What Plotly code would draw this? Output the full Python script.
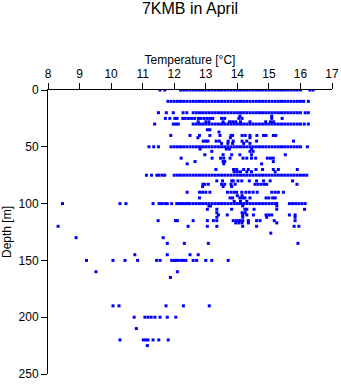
import plotly.graph_objects as go

# Depth levels (m) and temperatures (°C)
t_d0 = [11.55, 11.7, 12.2, 12.3, 12.4, 12.5, 12.6, 12.7, 12.8, 12.9, 13.0, 13.1, 13.2, 13.3, 13.4,
        13.5, 13.6, 13.7, 13.8, 13.9, 14.0, 14.1, 14.2, 14.3, 14.4, 14.5, 14.6, 14.7, 14.8, 14.9,
        15.0, 15.1, 15.2, 15.3, 15.4, 15.5, 15.6, 15.7, 15.8, 15.9, 16.0, 16.3, 16.4]
t_d10 = [11.8, 11.9, 12.0, 12.1, 12.2, 12.3, 12.4, 12.5, 12.6, 12.7, 12.8, 12.9, 13.0, 13.1, 13.2,
         13.3, 13.4, 13.5, 13.6, 13.7, 13.8, 13.9, 14.0, 14.1, 14.2, 14.3, 14.4, 14.5, 14.6, 14.7,
         14.8, 14.9, 15.0, 15.1, 15.2, 15.3, 15.4, 15.5, 15.6, 15.7, 15.8, 15.9, 16.0, 16.1, 16.25]
t_d20 = [11.5, 11.75, 11.97, 12.28, 12.4, 12.6, 12.7, 12.8, 12.9, 13.0, 13.1, 13.2, 13.3, 13.4,
         13.5, 13.6, 13.7, 13.8, 13.9, 14.0, 14.1, 14.2, 14.3, 14.4, 14.5, 14.6, 14.7, 14.8, 14.9,
         15.0, 15.1, 15.2, 15.3, 15.4, 15.5, 15.6, 15.7, 15.8, 15.9, 16.0, 16.15, 16.25]
t_d23 = [14.08, 15.09]
t_d25 = [11.72, 11.86, 12.02, 12.09, 12.27, 12.35, 12.45, 12.55, 12.65, 12.77, 12.85, 12.95, 13.05,
         13.15, 13.22, 13.5, 13.6, 14.05, 14.15, 15.09, 15.42]
t_d28 = [12.76, 13.0, 13.1, 13.55, 13.75, 13.85, 13.95, 14.1, 14.4, 14.9, 15.05, 15.15]
t_d30 = [11.38, 11.97, 12.05, 12.13, 12.6, 12.7, 12.8, 12.9, 13.0, 13.1, 13.2, 13.3, 13.4, 13.5,
         13.6, 13.7, 13.8, 13.9, 14.0, 14.1, 14.2, 14.3, 14.4, 14.5, 14.6, 14.7, 14.8, 14.9, 15.0,
         15.1, 15.2, 15.3, 15.4, 15.5, 15.6, 15.7, 15.8, 15.9, 16.0, 16.12, 16.25]
t_d35 = [13.05, 13.13]
t_d37 = [13.42]
t_d40 = [11.89, 12.5, 12.8, 13.13, 13.45, 13.8, 13.85, 14.15, 14.25, 14.4, 14.62, 14.83, 14.91,
         15.14, 15.22]
t_d42 = [12.75, 13.78, 14.4]
t_d45 = [12.92, 13.0, 13.07, 13.33, 13.43, 13.71, 13.87, 14.15, 14.3, 14.61, 15.78]
t_d47 = [13.5, 13.7, 13.85, 14.2, 14.4]
t_d50 = [11.2, 11.35, 11.5, 11.9, 12.0, 12.1, 12.2, 12.3, 12.4, 12.5, 12.6, 12.7, 12.8, 12.9, 13.0,
         13.1, 13.2, 13.3, 13.4, 13.5, 13.6, 13.7, 13.8, 13.9, 14.0, 14.1, 14.2, 14.3, 14.4, 14.5,
         14.6, 14.7, 14.8, 14.9, 15.0, 15.1, 15.2, 15.3, 15.4, 15.5, 15.6, 15.7, 15.8, 15.9, 16.0,
         16.22]
t_d52 = [12.82, 13.65, 13.75, 14.45]
t_d54 = [13.19, 14.4, 14.5]
t_d57 = [12.97, 13.55, 13.82, 14.08, 14.45, 15.52]
t_d60 = [12.22, 13.2, 13.47, 13.57, 13.77, 14.18, 14.3, 14.45, 14.58, 14.95, 15.05, 15.14]
t_d63 = [12.66, 13.55, 13.6, 15.14]
t_d65 = [12.41, 13.57, 14.77]
t_d70 = [13.32, 13.88, 13.98, 14.2, 14.35, 14.59, 14.8, 15.14, 15.3, 15.9]
t_d72 = [13.9, 14.0, 14.1, 14.3, 14.45, 15.2]
t_d75 = [11.12, 11.28, 11.45, 11.52, 11.62, 11.7, 12.0, 12.1, 12.2, 12.3, 12.4, 12.5, 12.6, 12.7,
         12.8, 12.9, 13.0, 13.1, 13.2, 13.3, 13.4, 13.5, 13.6, 13.7, 13.8, 13.9, 14.0, 14.1, 14.2,
         14.3, 14.4, 14.5, 14.6, 14.7, 14.8, 14.9, 15.0, 15.1, 15.2, 15.3, 15.4, 15.5, 15.6, 15.7,
         15.8, 15.9, 16.0, 16.1, 16.2]
t_d80 = [13.35, 13.53, 13.82, 13.87, 14.02, 14.14, 14.38, 14.61, 14.83, 15.04, 15.75]
t_d83 = [12.91, 12.97, 13.08, 13.5, 13.6, 13.8, 13.93, 14.56, 14.65, 14.75, 14.85, 14.93, 15.89]
t_d85 = [12.9, 13.55, 13.82]
t_d90 = [12.41, 12.8, 12.9, 13.0, 13.13, 13.69, 13.8, 13.9, 13.98, 14.14, 14.27, 14.38, 14.5, 14.63,
         15.09, 15.2, 15.3, 15.46]
t_d93 = [14.0, 14.15]
t_d95 = [12.8, 13.77, 13.85, 14.08, 14.17, 14.24, 14.4, 14.91, 15.0, 15.12, 15.2]
t_d98 = [13.9, 14.1, 14.3]
t_d100 = [8.46, 10.28, 10.47, 11.33, 11.52, 11.6, 11.7, 11.78, 11.92, 12.08, 12.15, 12.23, 12.29,
          12.37, 12.44, 12.5, 12.6, 12.7, 12.8, 12.9, 13.0, 13.1, 13.2, 13.3, 13.4, 13.5, 13.6,
          13.7, 13.8, 13.9, 14.0, 14.1, 14.2, 14.3, 14.4, 14.5, 14.6, 14.7, 14.8, 14.9, 15.0, 15.1,
          15.2, 15.25, 15.65, 15.75, 15.85, 15.95, 16.05, 16.15]
t_d102 = [13.1, 13.15, 14.17, 15.25]
t_d105 = [13.05, 13.35, 13.82, 14.24, 14.3, 14.53, 15.25, 16.13]
t_d108 = [13.35, 14.15, 14.25]
t_d110 = [13.4, 13.68, 14.17, 14.3, 14.51, 14.91, 15.0, 15.09, 15.65, 15.83]
t_d112 = [13.35, 14.17, 14.93, 15.83]
t_d115 = [11.49, 12.04, 12.1, 12.6, 13.05, 13.24, 13.35, 13.87, 13.97, 14.07, 14.17, 14.35, 14.61,
          14.72, 15.17, 15.83]
t_d117 = [13.95, 14.05, 14.15, 14.35, 15.25]
t_d120 = [8.32, 12.44, 13.05, 13.35, 14.17, 14.61, 15.8, 15.95]
t_d126 = [15.06]
t_d130 = [8.89, 11.65]
t_d135 = [11.78, 12.32, 13.08, 15.92]
t_d145 = [10.75, 11.78, 12.5, 12.76]
t_d150 = [9.22, 10.06, 10.44, 10.84, 11.44, 11.55, 11.92, 12.0, 12.07, 12.13, 12.23, 12.3, 12.37,
          12.6, 12.71, 13.0, 13.19, 13.71]
t_d160 = [9.52, 12.1]
t_d165 = [11.88]
t_d190 = [10.06, 10.25, 11.74, 12.29, 13.11]
t_d200 = [10.73, 11.07, 11.17, 11.27, 11.39, 11.55, 11.78, 12.05]
t_d210 = [10.8]
t_d220 = [10.28, 11.02, 11.1, 11.17, 11.33, 11.51, 11.81]
t_d225 = [11.15]

depth_levels = [0, 10, 20, 23, 25, 28, 30, 35, 37, 40, 42, 45, 47, 50, 52, 54, 57, 60, 63, 65, 70,
                72, 75, 80, 83, 85, 90, 93, 95, 98, 100, 102, 105, 108, 110, 112, 115, 117, 120,
                126, 130, 135, 145, 150, 160, 165, 190, 200, 210, 220, 225]
temp_rows = [t_d0, t_d10, t_d20, t_d23, t_d25, t_d28, t_d30, t_d35, t_d37, t_d40, t_d42, t_d45,
             t_d47, t_d50, t_d52, t_d54, t_d57, t_d60, t_d63, t_d65, t_d70, t_d72, t_d75, t_d80,
             t_d83, t_d85, t_d90, t_d93, t_d95, t_d98, t_d100, t_d102, t_d105, t_d108, t_d110,
             t_d112, t_d115, t_d117, t_d120, t_d126, t_d130, t_d135, t_d145, t_d150, t_d160,
             t_d165, t_d190, t_d200, t_d210, t_d220, t_d225]

x_ticks = [8, 9, 10, 11, 12, 13, 14, 15, 16, 17]
y_ticks = [0, 50, 100, 150, 200, 250]

temperature = []
depth = []
for d, temps in zip(depth_levels, temp_rows):
    temperature.extend(temps)
    depth.extend([d] * len(temps))

FONT = "Liberation Sans, Arial, Helvetica, sans-serif"

fig = go.Figure(go.Scatter(
    x=temperature, y=depth, mode="markers",
    marker=dict(symbol="square", size=3, color="#0000ff", line=dict(width=0)),
    hoverinfo="x+y", showlegend=False,
))

fig.update_layout(
    width=341, height=384,
    margin=dict(l=48, r=9, t=90, b=10),
    paper_bgcolor="white", plot_bgcolor="white",
    font=dict(family=FONT, color="black", size=12),
    title=dict(text="7KMB in April", x=0.5, xref="paper", y=0.978, yref="container",
               yanchor="middle", font=dict(size=16, family=FONT, color="black")),
    xaxis=dict(
        side="top", range=[8, 17], tickvals=x_ticks, ticktext=[str(v) for v in x_ticks],
        ticks="outside", ticklen=6, tickwidth=1, tickcolor="black",
        showline=True, linecolor="black", linewidth=1, showgrid=False, zeroline=False,
        tickfont=dict(size=12), title=dict(text="Temperature [°C]", font=dict(size=12), standoff=0),
        automargin=False,
    ),
    yaxis=dict(
        range=[250, 0], tickvals=y_ticks, ticktext=[str(v) for v in y_ticks],
        ticks="outside", ticklen=6, tickwidth=1, tickcolor="black",
        showline=True, linecolor="black", linewidth=1, showgrid=False, zeroline=False,
        tickfont=dict(size=12), title=dict(text="Depth [m]", font=dict(size=12), standoff=4),
        automargin=False,
    ),
)

fig.write_html("out.html")
